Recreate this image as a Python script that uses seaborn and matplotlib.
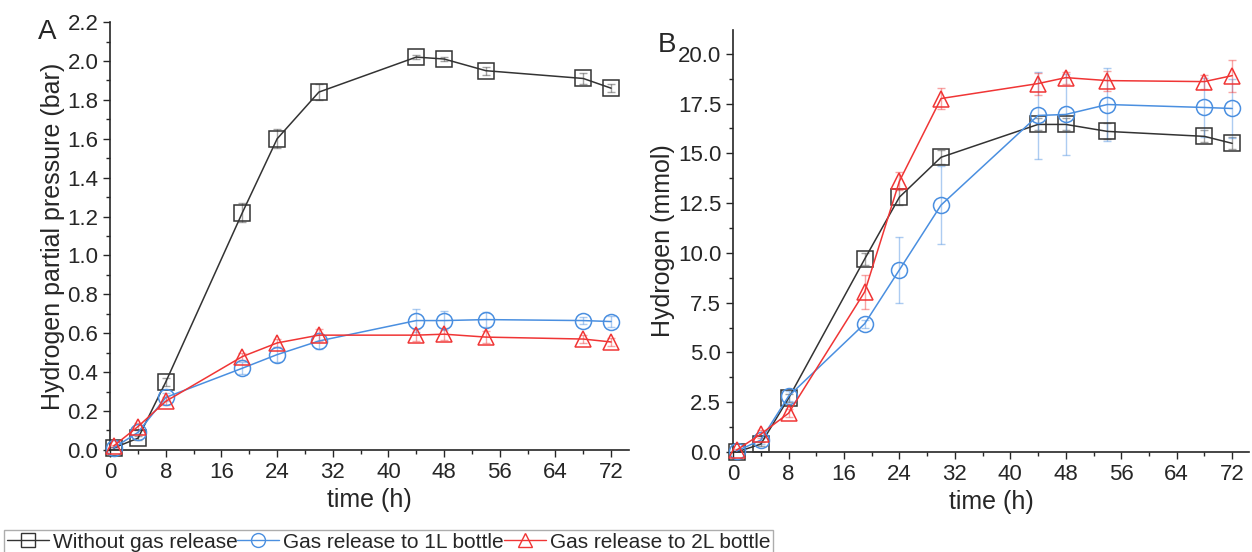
import numpy as np
import pandas as pd
import seaborn as sns
import matplotlib.pyplot as plt
from matplotlib.lines import Line2D
from matplotlib.ticker import MultipleLocator

sns.set_style('ticks')
plt.rcParams['font.family'] = ['Liberation Sans', 'DejaVu Sans']

# sampling times (h)
time = [0.5, 4, 8, 19, 24, 30, 44, 48, 54, 68, 72]
labels = ['Without gas release', 'Gas release to 1L bottle', 'Gas release to 2L bottle']

# A: hydrogen partial pressure (bar)
press_none = [0.01, 0.06, 0.35, 1.22, 1.60, 1.84, 2.02, 2.01, 1.95, 1.91, 1.86]
press_1L = [0.01, 0.09, 0.27, 0.42, 0.49, 0.56, 0.665, 0.665, 0.67, 0.665, 0.66]
press_2L = [0.02, 0.12, 0.25, 0.48, 0.55, 0.59, 0.59, 0.595, 0.58, 0.57, 0.555]
press_none_err = [0.005, 0.01, 0.02, 0.05, 0.05, 0.04, 0.01, 0.01, 0.02, 0.03, 0.02]
press_1L_err = [0.005, 0.01, 0.02, 0.03, 0.04, 0.04, 0.06, 0.05, 0.04, 0.02, 0.03]
press_2L_err = [0.005, 0.02, 0.02, 0.02, 0.02, 0.03, 0.03, 0.03, 0.03, 0.02, 0.02]

# B: hydrogen amount (mmol)
mmol_none = [0.0, 0.4, 2.7, 9.7, 12.8, 14.8, 16.45, 16.45, 16.1, 15.85, 15.5]
mmol_1L = [0.05, 0.6, 2.8, 6.45, 9.15, 12.4, 16.9, 16.95, 17.45, 17.3, 17.25]
mmol_2L = [0.1, 0.9, 1.95, 8.05, 13.6, 17.75, 18.5, 18.8, 18.65, 18.6, 18.9]
mmol_none_err = [0.05, 0.1, 0.2, 0.3, 0.4, 0.35, 0.3, 0.3, 0.4, 0.3, 0.3]
mmol_1L_err = [0.05, 0.2, 0.25, 0.2, 1.65, 1.95, 2.2, 2.05, 1.85, 1.5, 1.5]
mmol_2L_err = [0.05, 0.2, 0.2, 0.85, 0.45, 0.55, 0.55, 0.3, 0.5, 0.35, 0.8]

colors = ['#333333', '#4a8fe0', '#f03535']
markers = ['s', 'o', '^']

fig = plt.figure(figsize=(12.52, 5.52), dpi=100)
axA = fig.add_axes([0.088, 0.185, 0.414, 0.775])
axB = fig.add_axes([0.5855, 0.181, 0.4125, 0.765])


def draw(ax, ys, errs):
    for y, e, c, m, lab in zip(ys, errs, colors, markers, labels):
        ax.errorbar(time, y, yerr=e, fmt='none', ecolor=c, alpha=0.45,
                    elinewidth=1, capsize=3, zorder=2)
        df = pd.DataFrame({'time': time, 'val': y})
        sns.lineplot(data=df, x='time', y='val', ax=ax, color=c, marker=m,
                     markersize=11.5, markerfacecolor='none', markeredgecolor=c,
                     markeredgewidth=1.1, linewidth=1.1, zorder=3, clip_on=False)
    ax.set_xlim(0, 74.5)
    ax.xaxis.set_major_locator(MultipleLocator(8))
    ax.xaxis.set_minor_locator(MultipleLocator(4))
    ax.set_xlabel('time (h)', fontsize=18)
    sns.despine(ax=ax)
    ax.tick_params(which='major', length=5, width=1, labelsize=16, direction='out')
    ax.tick_params(which='minor', length=3, width=1, direction='out')
    for s in ['left', 'bottom']:
        ax.spines[s].set_linewidth(1.2)


draw(axA, [press_none, press_1L, press_2L], [press_none_err, press_1L_err, press_2L_err])
axA.set_ylim(0, 2.2)
axA.yaxis.set_major_locator(MultipleLocator(0.2))
axA.yaxis.set_minor_locator(MultipleLocator(0.1))
axA.set_ylabel('Hydrogen partial pressure (bar)', fontsize=18, labelpad=2)

draw(axB, [mmol_none, mmol_1L, mmol_2L], [mmol_none_err, mmol_1L_err, mmol_2L_err])
axB.set_ylim(0, 21.2)
axB.yaxis.set_major_locator(MultipleLocator(2.5))
axB.yaxis.set_minor_locator(MultipleLocator(1.25))
axB.yaxis.set_major_formatter(plt.FormatStrFormatter('%.1f'))
axB.set_ylabel('Hydrogen (mmol)', fontsize=18, labelpad=2)

fig.text(0.030, 0.93, 'A', fontsize=20)
fig.text(0.525, 0.905, 'B', fontsize=20)

handles = [Line2D([], [], color=c, marker=m, markersize=10, markerfacecolor='none',
                  linewidth=1) for c, m in zip(colors, markers)]
fig.legend(handles, labels, loc='lower left', bbox_to_anchor=(0.003, -0.005), ncol=3,
           fontsize=15, frameon=True, fancybox=False, edgecolor='#999999',
           handlelength=2.0, handletextpad=0.2, columnspacing=0.0,
           borderpad=0.15, borderaxespad=0.0)

fig.savefig('out.png', dpi=100)
